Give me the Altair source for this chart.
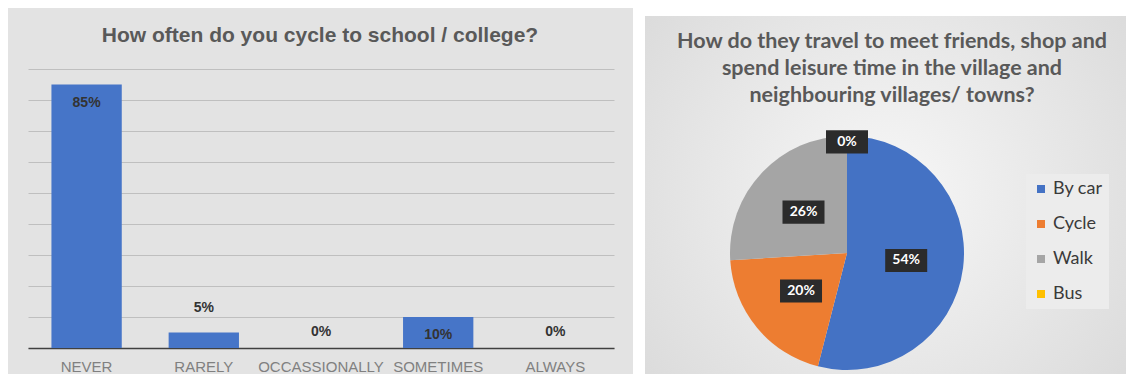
import altair as alt
import pandas as pd

# ---- data ----
freq_labels = ["NEVER", "RARELY", "OCCASSIONALLY", "SOMETIMES", "ALWAYS"]
freq_values = [85, 5, 0, 10, 0]

mode_labels = ["By car", "Cycle", "Walk", "Bus"]
mode_values = [54, 20, 26, 0]
mode_colors = ["#4472C4", "#ED7D31", "#A5A5A5", "#FFC000"]

y_ticks = [0, 10, 20, 30, 40, 50, 60, 70, 80, 90]

left_title = "How often do you cycle to school / college?"
right_title = ["How do they travel to meet friends, shop and",
               "spend leisure time in the village and",
               "neighbouring villages/ towns?"]

bars_df = pd.DataFrame({"freq": freq_labels, "pct": freq_values})
pie_df = pd.DataFrame({"mode": mode_labels, "pct": mode_values,
                       "idx": list(range(len(mode_labels)))})
one = pd.DataFrame({"k": [0]})

LW, LH = 586, 279
PR = 117
PS = 2 * PR
PCY = 184  # pie centre inside the right plot area

# ---- left: bar chart ----
x_enc = alt.X("freq:N", sort=freq_labels,
              scale=alt.Scale(paddingInner=0.4, paddingOuter=0.2),
              axis=alt.Axis(title=None, labelAngle=0, ticks=False, labelPadding=11,
                            labelFont="Liberation Sans", labelFontSize=15,
                            labelColor="#808080", domainColor="#404040",
                            domainWidth=1.5, grid=False, labelLimit=300))
y_enc = alt.Y("pct:Q", scale=alt.Scale(domain=[0, 90], nice=False),
              axis=alt.Axis(title=None, labels=False, ticks=False, domain=False,
                            values=y_ticks, gridColor="#bfbfbf", gridWidth=1))

spacer = alt.Chart(one).mark_rect(opacity=0).encode(
    x=alt.value(-20), x2=alt.value(605), y=alt.value(-61), y2=alt.value(305))

ltitle = alt.Chart(one).mark_text(
    text=left_title, font="Liberation Sans", fontSize=21, fontWeight="bold",
    color="#595959", align="center", baseline="alphabetic"
).encode(x=alt.value(292), y=alt.value(-27))

bars = alt.Chart(bars_df).mark_bar(color="#4675C8").encode(x=x_enc, y=y_enc)

lab_base = alt.Chart(bars_df).transform_calculate(lab="datum.pct + '%'")
lab_style = dict(font="Liberation Sans", fontSize=14, fontWeight="bold", color="#333333")
lab_in = lab_base.mark_text(dy=18, **lab_style).encode(
    x=x_enc, y=y_enc, text="lab:N").transform_filter("datum.pct >= 10")
lab_small = lab_base.mark_text(dy=-25, **lab_style).encode(
    x=x_enc, y=y_enc, text="lab:N").transform_filter("datum.pct > 0 && datum.pct < 10")
lab_zero = lab_base.mark_text(dy=-16, **lab_style).encode(
    x=x_enc, y=y_enc, text="lab:N").transform_filter("datum.pct == 0")

left = alt.layer(spacer, ltitle, bars, lab_in, lab_small, lab_zero).properties(
    width=LW, height=LH)

# ---- right: pie chart ----
white_rect = alt.Chart(one).mark_rect(color="white").encode(
    x=alt.value(-97), x2=alt.value(396), y=alt.value(-61), y2=alt.value(305))

grad_right = alt.RadialGradient(
    gradient="radial", x1=0.5, y1=0.5, r1=0, x2=0.5, y2=0.5, r2=0.75,
    stops=[alt.GradientStop(color="#f7f7f7", offset=0),
           alt.GradientStop(color="#d6d6d6", offset=1)])
bg_rect = alt.Chart(one).mark_rect(fill=grad_right).encode(
    x=alt.value(-85), x2=alt.value(396), y=alt.value(-53), y2=alt.value(305))

rtitle = alt.Chart(one).mark_text(
    text=right_title, font="Lato", fontSize=21.5, fontWeight="bold", color="#595959",
    align="center", baseline="alphabetic", lineHeight=27
).encode(x=alt.value(162), y=alt.value(-21))

arc = alt.Chart(pie_df).mark_arc(outerRadius=PR).encode(
    x=alt.value(PR), y=alt.value(PCY),
    theta=alt.Theta("pct:Q", stack=True),
    color=alt.Color("mode:N", scale=alt.Scale(domain=mode_labels, range=mode_colors),
                    legend=alt.Legend(title=None, orient="none", legendX=998, legendY=105,
                                      symbolType="square", symbolSize=64,
                                      symbolStrokeWidth=0,
                                      labelFont="Lato", labelFontSize=18,
                                      labelColor="#3a3a3a", rowPadding=17,
                                      fillColor="#ececec", padding=6, labelOffset=3)),
    order=alt.Order("idx:Q"))

pie_lab = alt.Chart(pie_df).transform_joinaggregate(
    total="sum(pct)"
).transform_window(
    cum="sum(pct)", sort=[alt.SortField("idx")], frame=[None, 0]
).transform_calculate(
    mid="2*PI*(datum.cum - datum.pct/2)/datum.total",
    rr="datum.pct == 0 ? 0.95 : 0.51",
).transform_calculate(
    lx="datum.rr*sin(datum.mid)",
    ly="datum.rr*cos(datum.mid)",
    lab="datum.pct + '%'",
)
xs = alt.X("lx:Q", scale=alt.Scale(domain=[-1, 1], range=[0, PS], nice=False, zero=False),
           axis=None)
ys = alt.Y("ly:Q", scale=alt.Scale(domain=[-1, 1], range=[PCY + PR, PCY - PR],
                                   nice=False, zero=False), axis=None)

boxes = pie_lab.mark_point(shape="M-1,-0.55L1,-0.55L1,0.55L-1,0.55Z", size=1764,
                           filled=True, opacity=1, color="#2b2b2b",
                           strokeWidth=0).encode(x=xs, y=ys)
texts = pie_lab.mark_text(font="Lato", fontSize=14, fontWeight="bold",
                          color="white").encode(x=xs, y=ys, text="lab:N")

right = alt.layer(white_rect, bg_rect, rtitle, arc, boxes, texts).properties(
    width=PS, height=LH)

chart = alt.hconcat(left, right, spacing=0).properties(
    padding=0, background="#e3e3e3"
).configure_view(strokeWidth=0)

chart.save("out.html", embed_options={"renderer": "svg", "actions": False})
